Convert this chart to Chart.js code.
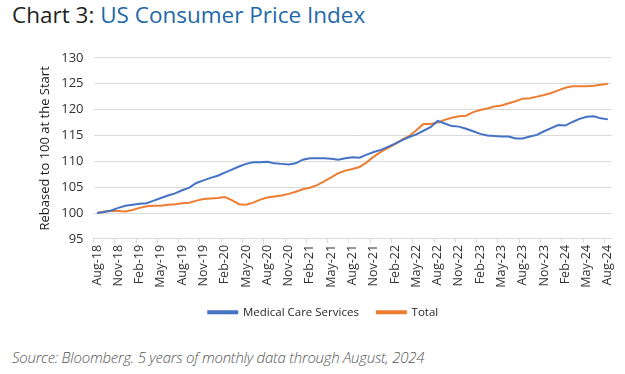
<!DOCTYPE html>
<html>
<head>
<meta charset="utf-8">
<script src="https://cdn.jsdelivr.net/npm/chart.js@4"></script>
<style>
  body { margin: 0; background: #fff; width: 625px; height: 374px; overflow: hidden; position: relative; font-family: "Open Sans", sans-serif; }
  #title { position: absolute; left: 12px; top: 1px; font-size: 22.5px; line-height: 28px; color: #231f20; white-space: nowrap; }
  #title span { color: #2269a8; }
  #wrap { position: absolute; left: 0; top: 40px; width: 625px; height: 290px; }
  #source { position: absolute; left: 12px; top: 347px; font-size: 15px; line-height: 20px; font-style: italic; font-weight: 300; color: #555; white-space: nowrap; letter-spacing: -0.25px; }
</style>
</head>
<body>
<div id="title">Chart 3: <span>US Consumer Price Index</span></div>
<div id="wrap"><canvas id="cpiChart" width="625" height="290"></canvas></div>
<div id="source">Source: Bloomberg. 5 years of monthly data through August, 2024</div>
<script>
// monthly, Aug-18 .. Aug-24
const months = [
  'Aug-18','Sep-18','Oct-18','Nov-18','Dec-18','Jan-19','Feb-19','Mar-19','Apr-19','May-19','Jun-19','Jul-19',
  'Aug-19','Sep-19','Oct-19','Nov-19','Dec-19','Jan-20','Feb-20','Mar-20','Apr-20','May-20','Jun-20','Jul-20',
  'Aug-20','Sep-20','Oct-20','Nov-20','Dec-20','Jan-21','Feb-21','Mar-21','Apr-21','May-21','Jun-21','Jul-21',
  'Aug-21','Sep-21','Oct-21','Nov-21','Dec-21','Jan-22','Feb-22','Mar-22','Apr-22','May-22','Jun-22','Jul-22',
  'Aug-22','Sep-22','Oct-22','Nov-22','Dec-22','Jan-23','Feb-23','Mar-23','Apr-23','May-23','Jun-23','Jul-23',
  'Aug-23','Sep-23','Oct-23','Nov-23','Dec-23','Jan-24','Feb-24','Mar-24','Apr-24','May-24','Jun-24','Jul-24',
  'Aug-24'
];

const medicalCare = [
  100.0, 100.2, 100.5, 101.0, 101.4, 101.6, 101.8, 101.9, 102.4, 102.9, 103.4, 103.8,
  104.4, 104.9, 105.8, 106.3, 106.8, 107.2, 107.8, 108.4, 109.0, 109.5, 109.8, 109.8,
  109.9, 109.6, 109.5, 109.4, 109.6, 110.3, 110.6, 110.6, 110.6, 110.5, 110.3, 110.6,
  110.8, 110.7, 111.3, 111.8, 112.2, 112.8, 113.4, 114.1, 114.7, 115.2, 115.9, 116.6,
  117.8, 117.3, 116.8, 116.7, 116.3, 115.8, 115.3, 115.0, 114.9, 114.8, 114.8, 114.4,
  114.4, 114.8, 115.1, 115.8, 116.4, 117.0, 116.9, 117.6, 118.2, 118.6, 118.7, 118.3,
  118.1
];

const total = [
  100.0, 100.3, 100.4, 100.4, 100.3, 100.6, 101.0, 101.3, 101.4, 101.4, 101.6, 101.7,
  101.9, 102.0, 102.4, 102.7, 102.8, 102.9, 103.1, 102.5, 101.7, 101.6, 102.0, 102.6,
  103.0, 103.2, 103.4, 103.7, 104.1, 104.6, 104.9, 105.4, 106.1, 106.9, 107.7, 108.2,
  108.5, 108.9, 109.8, 110.9, 111.8, 112.6, 113.3, 114.2, 114.9, 116.0, 117.2, 117.2,
  117.5, 118.0, 118.4, 118.7, 118.8, 119.5, 119.9, 120.2, 120.6, 120.8, 121.2, 121.6,
  122.1, 122.2, 122.5, 122.8, 123.2, 123.7, 124.2, 124.5, 124.5, 124.5, 124.6, 124.8,
  125.0
];

const gridGrey = '#d9d9d9';
const textGrey = '#333333';

const ctx = document.getElementById('cpiChart').getContext('2d');
new Chart(ctx, {
  type: 'line',
  data: {
    labels: months,
    datasets: [
      {
        label: 'Medical Care Services',
        data: medicalCare,
        borderColor: '#4472c4',
        backgroundColor: '#4472c4',
        borderWidth: 2,
        pointRadius: 0,
        tension: 0
      },
      {
        label: 'Total',
        data: total,
        borderColor: '#ed7d31',
        backgroundColor: '#ed7d31',
        borderWidth: 2,
        pointRadius: 0,
        tension: 0
      }
    ]
  },
  options: {
    responsive: false,
    animation: false,
    layout: { padding: { left: 33, right: 11.5, top: 16, bottom: 2 } },
    plugins: {
      legend: {
        position: 'bottom',
        labels: {
          boxWidth: 29,
          boxHeight: 2,
          padding: 18,
          color: '#262626',
          font: { family: 'Open Sans', size: 11.5 }
        }
      },
      tooltip: { enabled: false }
    },
    scales: {
      x: {
        offset: true,
        afterFit: (scale) => { scale.height = 49.6; },
        border: { display: true, color: gridGrey, width: 1 },
        grid: {
          offset: true,
          drawOnChartArea: false,
          drawTicks: true,
          tickLength: 4,
          color: (c) => (c.index % 3 === 0 ? gridGrey : 'rgba(0,0,0,0)')
        },
        ticks: {
          autoSkip: false,
          maxRotation: 90,
          minRotation: 90,
          padding: 2,
          color: textGrey,
          font: { family: 'Open Sans', size: 12.5 },
          callback: function (val, i) { return i % 3 === 0 ? this.getLabelForValue(val) : ''; }
        }
      },
      y: {
        min: 95,
        max: 130,
        afterFit: (scale) => { scale.width = 60.5; },
        border: { display: false },
        grid: { color: gridGrey, drawTicks: false },
        ticks: {
          stepSize: 5,
          padding: 10,
          color: textGrey,
          font: { family: 'Open Sans', size: 13 }
        },
        title: {
          display: true,
          text: 'Rebased to 100 at the Start',
          color: '#1a1a1a',
          font: { family: 'Open Sans', size: 13 }
        }
      }
    }
  }
});
</script>
</body>
</html>
